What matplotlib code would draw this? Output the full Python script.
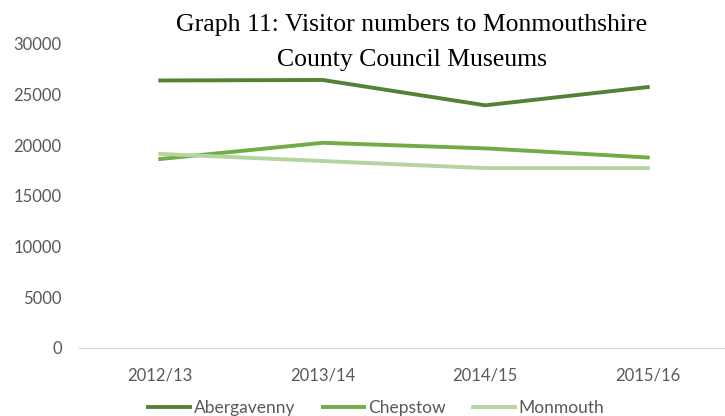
import matplotlib.pyplot as plt

years = ['2012/13', '2013/14', '2014/15', '2015/16']
abergavenny = [26400, 26450, 23950, 25750]
chepstow = [18650, 20250, 19700, 18800]
monmouth = [19150, 18450, 17750, 17750]

fig = plt.figure(figsize=(7.25, 4.16), dpi=100)
ax = fig.add_axes([79/725, 1-348/416, 1-79/725, (348-44)/416])

x = range(len(years))
ax.plot(x, abergavenny, color='#548235', lw=2.8, label='Abergavenny')
ax.plot(x, chepstow, color='#70AD47', lw=2.8, label='Chepstow')
ax.plot(x, monmouth, color='#B4D4A0', lw=2.8, label='Monmouth')

ax.set_ylim(0, 30000)
ax.set_xlim(-0.5, 3.475)
ax.set_yticks(range(0, 30001, 5000))
ax.set_xticks(list(x))
ax.set_xticklabels(years)
for s in ['top', 'right', 'left']:
    ax.spines[s].set_visible(False)
ax.spines['bottom'].set_color('#D9D9D9')
ax.tick_params(length=0, colors='#595959', labelsize=12)
ax.tick_params(axis='x', pad=14)
ax.tick_params(axis='y', pad=12.5)
for t in ax.get_xticklabels() + ax.get_yticklabels():
    t.set_family('Lato')

fig.text(0.568, 0.897, 'Graph 11: Visitor numbers to Monmouthshire\nCounty Council Museums',
         ha='center', va='center', fontsize=18.5, family='Liberation Serif', linespacing=1.75)

leg = fig.legend(loc='center', bbox_to_anchor=(0.519, 0.02), ncol=3, frameon=False,
                 prop={'family': 'Lato', 'size': 12.5}, handlelength=2.4, columnspacing=1.6,
                 handletextpad=0.2)
for t in leg.get_texts():
    t.set_color('#595959')

fig.savefig('out.png')
